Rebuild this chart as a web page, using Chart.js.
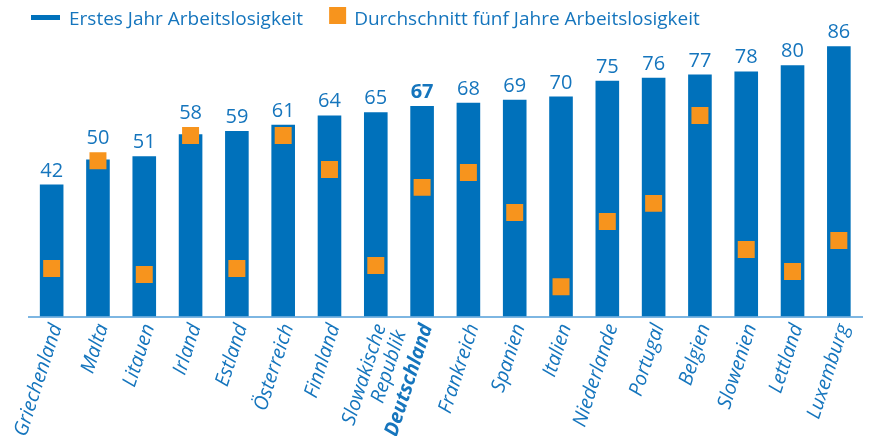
<!DOCTYPE html>
<html>
<head>
<meta charset="utf-8">
<script src="https://cdn.jsdelivr.net/npm/chart.js@4/dist/chart.umd.min.js"></script>
<style>
html, body { margin: 0; padding: 0; background: #fff; overflow: hidden; }
#wrap { position: relative; width: 874px; height: 436px; }
</style>
</head>
<body>
<div id="wrap"><canvas id="chart"></canvas></div>
<script>
var laender = ['Griechenland', 'Malta', 'Litauen', 'Irland', 'Estland', 'Österreich', 'Finnland',
    ['Slowakische', 'Republik'], 'Deutschland', 'Frankreich', 'Spanien', 'Italien', 'Niederlande',
    'Portugal', 'Belgien', 'Slowenien', 'Lettland', 'Luxemburg'];
var erstesJahr = [42, 50, 51, 58, 59, 61, 64, 65, 67, 68, 69, 70, 75, 76, 77, 78, 80, 86];
var fuenfJahre = [15.3, 49.6, 13.4, 57.6, 15.3, 57.6, 46.8, 16.2, 41.1, 45.8, 33.1, 9.5, 30.2, 36, 64, 21.3, 14.3, 24.2];
var legendeTexte = ['Erstes Jahr Arbeitslosigkeit', 'Durchschnitt fünf Jahre Arbeitslosigkeit'];
var hervorheben = 8; // Deutschland

var blau = '#0071BB';
var textBlau = '#1575BD';
var orange = '#F7941D';
var achseBlau = '#7DB6E2';
var schrift = '"Open Sans", "Noto Sans", sans-serif';

// Zahlen über den Balken
var wertePlugin = {
    id: 'werte',
    afterDatasetsDraw: function (chart) {
        var ctx = chart.ctx;
        var bars = chart.getDatasetMeta(0).data;
        var punkte = chart.getDatasetMeta(1).data;
        ctx.save();
        ctx.textAlign = 'center';
        ctx.textBaseline = 'alphabetic';
        ctx.fillStyle = textBlau;
        bars.forEach(function (bar, i) {
            var oben = Math.min(bar.y, punkte[i].y - 8.5);
            ctx.font = (i === hervorheben ? 'bold ' : '') + '20px ' + schrift;
            ctx.fillText(erstesJahr[i], bar.x, oben - 8);
        });
        ctx.restore();
    }
};

// Legende oben links
var legendePlugin = {
    id: 'legende',
    afterDraw: function (chart) {
        var ctx = chart.ctx;
        ctx.save();
        ctx.font = '19px ' + schrift;
        ctx.textBaseline = 'alphabetic';
        ctx.textAlign = 'left';
        ctx.fillStyle = blau;
        ctx.fillRect(31, 15, 29, 5);
        ctx.fillStyle = textBlau;
        ctx.fillText(legendeTexte[0], 69, 25);
        var x2 = 69 + ctx.measureText(legendeTexte[0]).width + 26;
        ctx.fillStyle = orange;
        ctx.fillRect(x2, 7, 17, 17);
        ctx.fillStyle = textBlau;
        ctx.fillText(legendeTexte[1], x2 + 25, 25);
        ctx.restore();
    }
};

var CHART = document.getElementById('chart').getContext('2d');
var chart = new Chart(CHART, {
    data: {
        labels: laender,
        datasets: [{
                type: 'bar',
                data: erstesJahr,
                label: legendeTexte[0],
                backgroundColor: blau,
                barPercentage: 0.51,
                categoryPercentage: 1,
                order: 2
            },
            {
                type: 'line',
                data: fuenfJahre,
                label: legendeTexte[1],
                showLine: false,
                pointStyle: 'rect',
                pointRadius: 12,
                pointHoverRadius: 12,
                pointBackgroundColor: orange,
                pointBorderWidth: 0,
                order: 1
            }
        ]
    },
    options: {
        responsive: true,
        maintainAspectRatio: false,
        animation: false,
        layout: { padding: { left: 28.5, right: 0, top: 40, bottom: 0 } },
        plugins: {
            tooltip: { enabled: false },
            legend: { display: false }
        },
        scales: {
            x: {
                grid: { display: false, drawTicks: false },
                border: { display: true, color: achseBlau, width: 2 },
                ticks: {
                    color: textBlau,
                    autoSkip: false,
                    minRotation: 72,
                    maxRotation: 72,
                    padding: 5,
                    labelOffset: 5,
                    font: function (c) {
                        return {
                            family: schrift,
                            size: 19.8,
                            lineHeight: 1.05,
                            style: 'italic',
                            weight: c.index === hervorheben ? 'bold' : 'normal'
                        };
                    }
                },
                afterFit: function (scale) {
                    scale.height = 119.5;
                    scale.paddingLeft = 0;
                    scale.paddingRight = 0;
                }
            },
            y: {
                display: false,
                min: 0,
                max: 88
            }
        }
    },
    plugins: [wertePlugin, legendePlugin]
});
</script>
</body>
</html>
